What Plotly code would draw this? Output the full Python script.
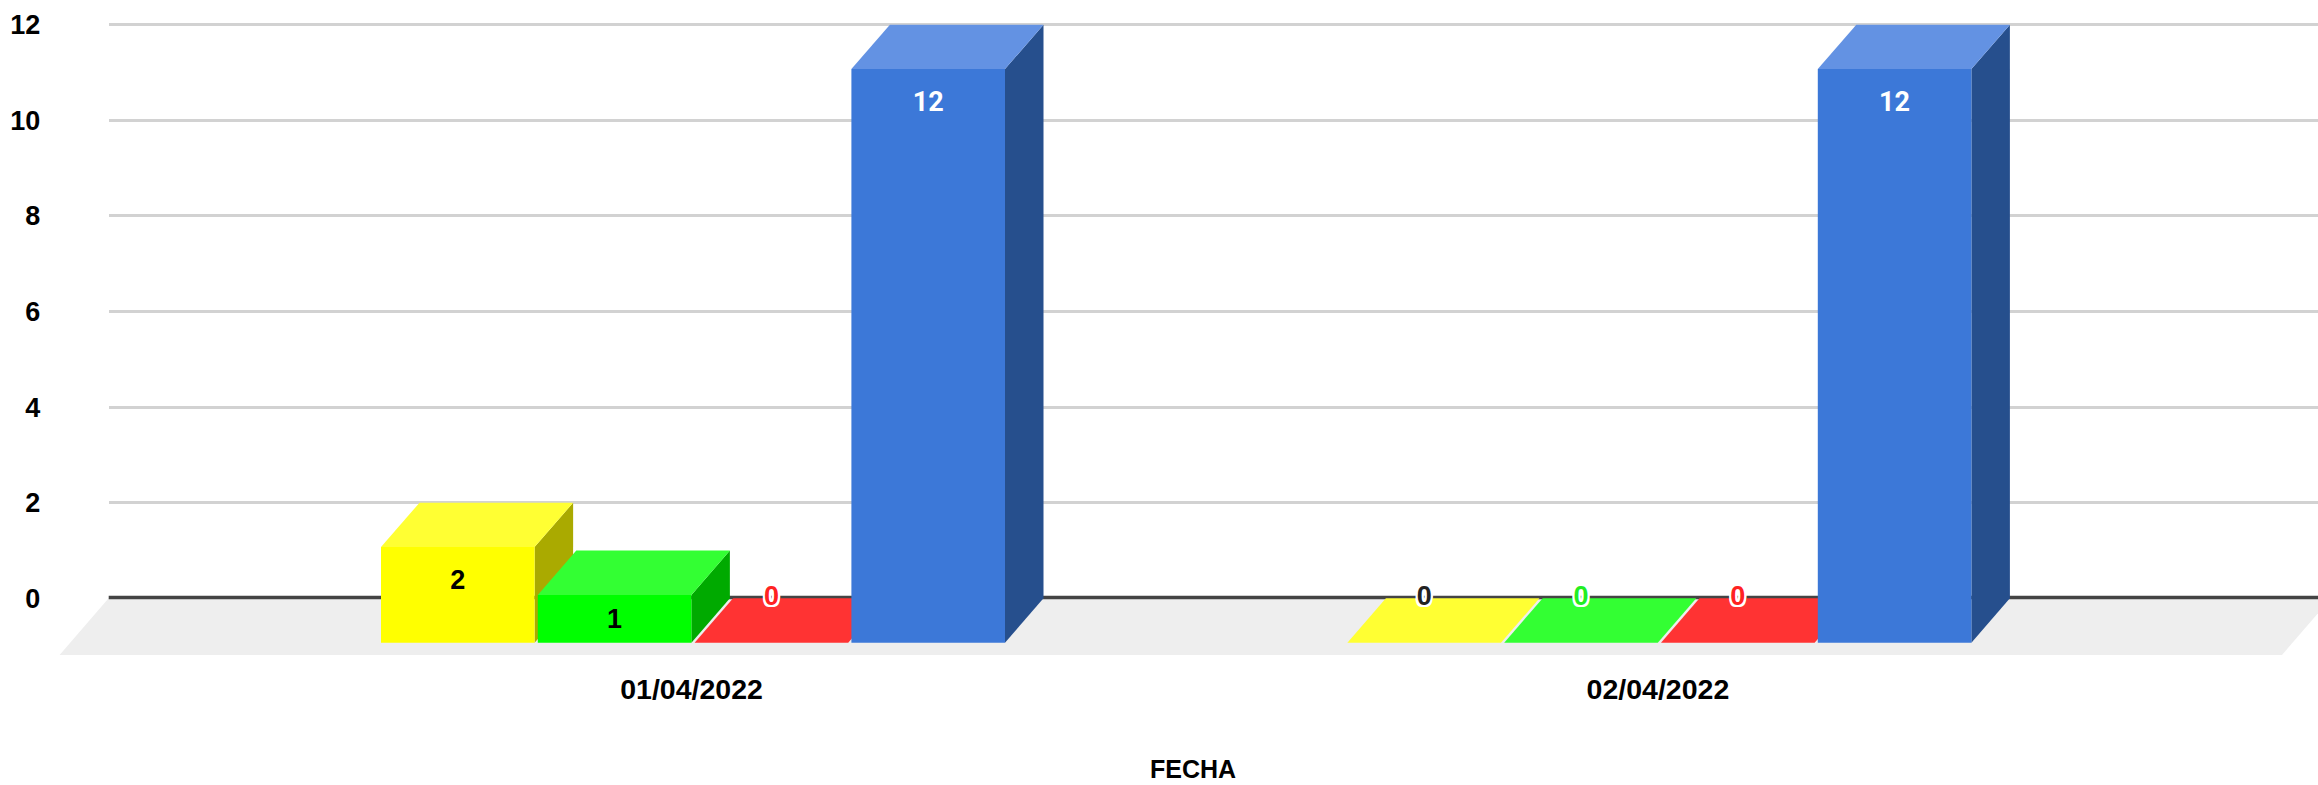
import plotly.graph_objects as go

CATEGORIES = ["01/04/2022", "02/04/2022"]
SERIES_AMARILLO = [2, 0]
SERIES_VERDE = [1, 0]
SERIES_ROJO = [0, 0]
SERIES_AZUL = [12, 12]
Y_TICKS = [0, 2, 4, 6, 8, 10, 12]

# (values, front, top, side, label colour, zero-label colour)
STYLES = [
    (SERIES_AMARILLO, "#ffff00", "#ffff33", "#aaaa00", "#000000", "#222222"),
    (SERIES_VERDE, "#00ff00", "#33ff33", "#00aa00", "#000000", "#22ee22"),
    (SERIES_ROJO, "#ff0000", "#ff3333", "#aa0000", "#ff2222", "#ff2222"),
    (SERIES_AZUL, "#3c78d8", "#6392e3", "#264f8d", "#ffffff", "#ffffff"),
]

W, H, BOTTOM = 2318, 785, 125
PLOT_H = H - BOTTOM
Y0_PX, Y_UNIT = 598.3, 47.8
X0_PX, X_UNIT = 691.5, 966.4
DX = 38.5 / X_UNIT
DY = 44.4 / Y_UNIT
BAR_W = 153.6 / X_UNIT
STRIDE = 156.8 / X_UNIT
START = (381 - X0_PX) / X_UNIT
FLOOR_DX = 49 / X_UNIT
FLOOR_Y = (Y0_PX - 655) / Y_UNIT
FLOOR_L = (59.6 - X0_PX) / X_UNIT
FLOOR_R = (2282 - X0_PX) / X_UNIT
AXIS_LEFT = (108.7 - X0_PX) / X_UNIT
AXIS_RIGHT = (W - X0_PX) / X_UNIT
FONT = "Liberation Sans"
HALO = ",".join(f"{a}px {b}px 0 #fff" for a, b in
                [(2, 0), (-2, 0), (0, 2), (0, -2), (2, 2), (-2, 2), (2, -2), (-2, -2)])

fig = go.Figure()


def poly(xs, ys, color):
    fig.add_trace(go.Scatter(x=xs, y=ys, mode="lines", fill="toself", fillcolor=color,
                             line=dict(width=0), hoverinfo="skip", showlegend=False,
                             xaxis="x2", yaxis="y2"))


# carrier of the grid and the value axis
fig.add_trace(go.Scatter(x=[0], y=[0], mode="markers", marker=dict(opacity=0),
                         hoverinfo="skip", showlegend=False))

poly([FLOOR_L, FLOOR_R, FLOOR_R + FLOOR_DX, FLOOR_L + FLOOR_DX],
     [FLOOR_Y, FLOOR_Y, 0, 0], "#eeeeee")

# baseline, sitting on the back edge of the floor
fig.add_trace(go.Scatter(x=[AXIS_LEFT, AXIS_RIGHT], y=[0.015, 0.015], mode="lines",
                         line=dict(color="#444444", width=3.5), hoverinfo="skip",
                         showlegend=False, xaxis="x2", yaxis="y2"))

for g in range(len(CATEGORIES)):
    for s, (values, front, top, side, _, _) in enumerate(STYLES):
        v = values[g]
        x0 = g + START + s * STRIDE
        x1 = x0 + BAR_W
        yb = -DY
        yt = v - DY
        if v > 0:
            poly([x1, x1 + DX, x1 + DX, x1], [yb, 0, v, yt], side)
        poly([x0, x1, x1 + DX, x0 + DX], [yt, yt, v, v], top)
        if v > 0:
            poly([x0, x1, x1, x0], [yb, yb, yt, yt], front)

for g in range(len(CATEGORIES)):
    for s, (values, _, _, _, col, zero_col) in enumerate(STYLES):
        v = values[g]
        x = g + START + s * STRIDE + BAR_W / 2
        if v == 0:
            y = 0.01
            tf = dict(family=FONT, size=27, weight=700, color=zero_col, shadow=HALO)
        else:
            y = v - DY - min(0.67, v * 0.5) - 0.06
            tf = dict(family=FONT, size=27, weight=700, color=col)
            if col == "#ffffff":
                tf = dict(family="Roboto", size=27, weight=700, color=col)
        fig.add_trace(go.Scatter(x=[x], y=[y], mode="text", text=[str(v)], textposition="middle center",
                                 textfont=tf, cliponaxis=False, hoverinfo="skip", showlegend=False,
                                 xaxis="x2", yaxis="y2"))

y_range = [(Y0_PX - PLOT_H) / Y_UNIT, Y0_PX / Y_UNIT]
x_range = [-X0_PX / X_UNIT, (W - X0_PX) / X_UNIT]

fig.update_layout(
    width=W, height=H, autosize=False,
    margin=dict(l=0, r=0, t=0, b=BOTTOM, pad=0),
    paper_bgcolor="#ffffff", plot_bgcolor="rgba(0,0,0,0)",
    showlegend=False,
    xaxis=dict(domain=[108.7 / W, 1], range=[0, 1], visible=False, anchor="y"),
    yaxis=dict(domain=[0, 1], range=y_range, anchor="x", tickmode="array", tickvals=Y_TICKS,
               ticks="outside", ticklen=62, tickcolor="rgba(0,0,0,0)",
               tickfont=dict(family=FONT, size=27, weight=700, color="#000000"),
               showgrid=True, gridcolor="#d2d2d2", gridwidth=2.5, showline=False,
               zeroline=False),
    xaxis2=dict(domain=[0, 1], range=x_range, anchor="y2", tickmode="array", tickvals=[0, 1],
                ticktext=CATEGORIES, ticks="outside", ticklen=4, tickcolor="rgba(0,0,0,0)",
                tickfont=dict(family=FONT, size=28.5, weight=700, color="#000000"),
                showgrid=False, zeroline=False, showline=False),
    yaxis2=dict(domain=[0, 1], range=y_range, anchor="x2", visible=False),
    annotations=[dict(text="FECHA", xref="paper", yref="paper", x=1193 / W,
                      y=-(768.5 - PLOT_H) / PLOT_H, showarrow=False,
                      xanchor="center", yanchor="middle",
                      font=dict(family=FONT, size=25, weight=700, color="#000000"))],
)

fig.write_html("out.html", config={"displayModeBar": False},
               post_script="document.body.style.margin='0';document.body.style.overflow='hidden';")
